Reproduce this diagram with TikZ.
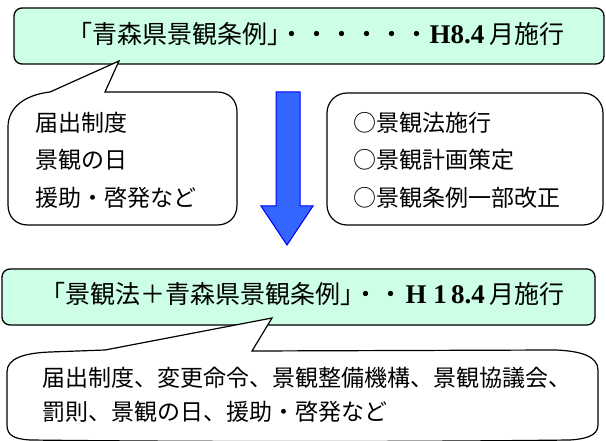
\documentclass[tikz,border=0pt]{standalone}
\usepackage{fontspec}
\setmainfont{Liberation Serif}
\newfontfamily\jp{Noto Sans CJK JP}
\newfontfamily\jph[RawFeature=+halt]{Noto Sans CJK JP}
\usepackage{tikz,xcolor}
\usetikzlibrary{calc}
\usetikzlibrary{positioning}

\definecolor{menta}{RGB}{204,255,230}
\definecolor{azulseta}{RGB}{51,102,255}

\newcommand{\abre}{{\jph 「}}
\newcommand{\fecha}{{\jph 」}}
\newcommand{\latim}[1]{{\rmfamily\fontsize{27}{28}\selectfont\bfseries #1}}

\begin{document}
\begin{tikzpicture}[x=1pt,y=-1pt,
    caixa/.style={draw=black, line width=1.3pt, fill=menta, rounded corners=8pt},
    balao/.style={draw=black, line width=1.2pt, fill=white},
    titulo/.style={inner sep=0pt, font=\jp\fontsize{25}{28}\selectfont},
    texto/.style={inner sep=0pt, align=left, anchor=west, font=\jp\fontsize{23}{37.5}\selectfont}]
      \useasboundingbox (0,0) rectangle (606,441);

      % Caixa de cima
      \draw[caixa] (14,8) rectangle (604,64);
      \node[titulo] (jorei) at (322,34) {\abre 青森県景観条例\fecha ・・・・・・\latim{H8.4}\hspace{5pt}月施行};

      % Balao da esquerda
      \draw[balao] (119,61) -- (105,92) -- (217,92) .. controls (229,92) and (237,100) .. (237,112)
        -- (237,205) .. controls (237,217) and (229,225) .. (217,225)
        -- (28,225) .. controls (16,225) and (8,217) .. (8,205)
        -- (8,127) .. controls (8,108) and (24,95) .. (50,92) -- cycle;
      \node[texto] (antes) at (35,160) {届出制度\\景観の日\\援助・啓発など};

      % Seta
      \draw[draw=blue, fill=azulseta, line width=1pt, line join=miter] (276,92) -- (300,92) -- (300,206) -- (313,206)
        -- (287,245) -- (261,206) -- (276,206) -- cycle;

      % Caixa da direita
      \draw[balao, rounded corners=20pt] (327,93) rectangle (603,225);
      \node[texto] (mudanca) at (353,160) {○景観法施行\\○景観計画策定\\○景観条例一部改正};

      % Caixa de baixo
      \draw[caixa] (2,269) rectangle (595,325);
      \node[titulo] (lei) at (309,294) {\abre 景観法＋青森県景観条例\fecha ・・\makebox[26pt]{\latim{H}}\makebox[22pt]{\latim{1}}\latim{8.4}\hspace{5pt}月施行};

      % Balao de baixo
      \draw[balao] (272,318) -- (252,351) -- (556,350) .. controls (580,351) and (598,356) .. (598,370)
        -- (598,425) .. controls (598,436) and (585,439) .. (570,440)
        .. controls (400,442) and (200,442) .. (30,440) .. controls (15,439) and (7,436) .. (7,425)
        -- (7,372) .. controls (7,358) and (25,353) .. (50,352) -- (105,350) -- cycle;
      \node[texto, font=\jp\fontsize{23}{34}\selectfont] (depois) at (42,395) {届出制度、変更命令、景観整備機構、景観協議会、\\罰則、景観の日、援助・啓発など};
\end{tikzpicture}
\end{document}
